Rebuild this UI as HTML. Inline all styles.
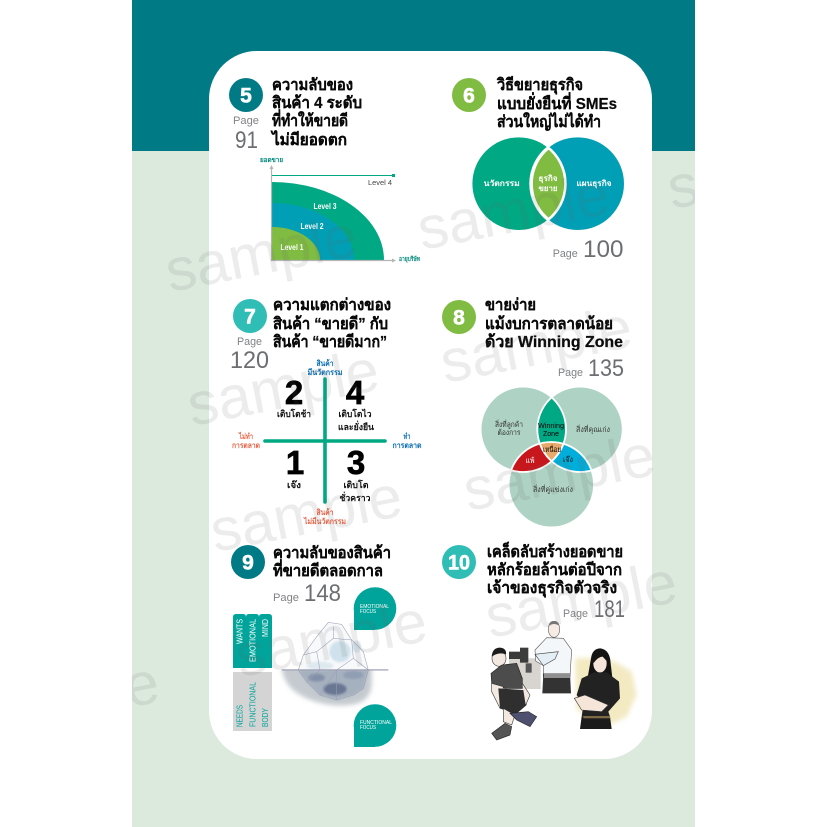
<!DOCTYPE html>
<html><head><meta charset="utf-8"><style>
html,body{margin:0;padding:0;background:#fff}
svg{display:block}
text{font-family:"Liberation Sans","DejaVu Sans","Noto Sans CJK SC",sans-serif}
.t{font-size:16px;font-weight:700;fill:#0a0a0a;stroke:#0a0a0a;stroke-width:.25}
.n{font-size:21px;font-weight:700;fill:#fff;stroke:#fff;stroke-width:.6;text-anchor:middle}
.p{font-size:11px;fill:#808285}
.g{font-size:24.500px;fill:#6d6e71}
.w{font-size:8px;font-weight:700;fill:#fff;text-anchor:middle}
.d{font-size:9px;font-weight:700;fill:#111;text-anchor:middle}
.big{font-size:33px;font-weight:700;fill:#000;stroke:#000;stroke-width:.7;text-anchor:middle}
.b{font-size:8px;font-weight:700;fill:#0b6fb5;text-anchor:middle}
.r{font-size:8px;font-weight:700;fill:#e8674a;text-anchor:middle}
.s{font-size:7.500px;fill:#333;text-anchor:middle}
.c{font-size:5px;fill:#fff}
.m{font-size:60px;fill:rgba(95,95,95,.12)}
</style></head><body>
<svg width="827" height="827" viewBox="0 0 827 827" xmlns="http://www.w3.org/2000/svg">
<defs>
<clipPath id="page"><rect x="132" y="0" width="563" height="827"/></clipPath>
<clipPath id="L"><circle cx="523.3" cy="429.3" r="42.7"/></clipPath>
<clipPath id="R"><circle cx="580" cy="429.3" r="42.7"/></clipPath>
<clipPath id="lv"><circle cx="518.7" cy="183.7" r="46.3"/></clipPath>
<clipPath id="water"><rect x="150" y="405" width="380" height="130"/></clipPath>
<filter id="bl" x="-30%" y="-30%" width="160%" height="160%"><feGaussianBlur stdDeviation="3"/></filter>
<filter id="bl2" x="-30%" y="-30%" width="160%" height="160%"><feGaussianBlur stdDeviation="1.5"/></filter>
<filter id="bl3" x="-30%" y="-30%" width="160%" height="160%"><feGaussianBlur stdDeviation="7"/></filter>
</defs>
<rect width="827" height="827" fill="#fff"/>
<rect x="132" y="0" width="563" height="827" fill="#dce9dd"/>
<rect x="132" y="0" width="563" height="151" fill="#007b85"/>
<rect x="209" y="51" width="443" height="708" rx="48" ry="48" fill="#fff"/>

<!-- 5 -->
<circle cx="246" cy="95" r="17" fill="#007b85"/><text class="n" x="246" y="102.500">5</text>
<text class="p" x="233" y="124" textLength="26" lengthAdjust="spacingAndGlyphs">Page</text>
<text class="g" x="235" y="148" textLength="23" lengthAdjust="spacingAndGlyphs">91</text>
<text class="t" x="272" y="90" textLength="81" lengthAdjust="spacingAndGlyphs">ความลับของ</text>
<text class="t" x="272" y="108" textLength="90" lengthAdjust="spacingAndGlyphs">สินค้า 4 ระดับ</text>
<text class="t" x="272" y="126" textLength="76" lengthAdjust="spacingAndGlyphs">ที่ทำให้ขายดี</text>
<text class="t" x="272" y="145" textLength="75" lengthAdjust="spacingAndGlyphs">ไม่มียอดตก</text>
<path d="M272 260V182A112 78 0 0 1 384 260Z" fill="#00a884"/>
<path d="M272 260V203A82 57 0 0 1 354 260Z" fill="#009fb5"/>
<path d="M272 260V227A48 33 0 0 1 320 260Z" fill="#7fbc41"/>
<path d="M271.500 168V260.500H393" fill="none" stroke="#b5b5b5" stroke-width="1.200"/>
<path d="M269.500 169l2-4 2 4zM392 258.500l4 2-4 2z" fill="#b5b5b5"/>
<path d="M272 175.500H393" stroke="#00a884" stroke-width="1"/><rect x="392" y="174" width="3" height="3" fill="#00a884"/>
<text x="368" y="185" font-size="7.500" fill="#444" textLength="24" lengthAdjust="spacingAndGlyphs">Level 4</text>
<text class="w" x="325" y="209" font-size="7.500" textLength="23" lengthAdjust="spacingAndGlyphs">Level 3</text>
<text class="w" x="312" y="229" font-size="7.500" textLength="23" lengthAdjust="spacingAndGlyphs">Level 2</text>
<text class="w" x="292" y="250" font-size="7.500" textLength="23" lengthAdjust="spacingAndGlyphs">Level 1</text>
<text x="260" y="162" font-size="6.500" font-weight="700" fill="#00897b" textLength="23" lengthAdjust="spacingAndGlyphs">ยอดขาย</text>
<text x="399" y="261" font-size="6.500" font-weight="700" fill="#00897b" textLength="21" lengthAdjust="spacingAndGlyphs">อายุบริษัท</text>

<!-- 6 -->
<circle cx="469" cy="95" r="17" fill="#7fbc41"/><text class="n" x="469" y="102.500">6</text>
<text class="t" x="497" y="90" textLength="86" lengthAdjust="spacingAndGlyphs">วิธีขยายธุรกิจ</text>
<text class="t" x="497" y="109" textLength="120" lengthAdjust="spacingAndGlyphs">แบบยั่งยืนที่ SMEs</text>
<text class="t" x="497" y="127" textLength="104" lengthAdjust="spacingAndGlyphs">ส่วนใหญ่ไม่ได้ทำ</text>
<circle cx="518.700" cy="183.700" r="46.300" fill="#00a884"/>
<circle cx="577.700" cy="183.700" r="46.300" fill="#009fb5"/>
<g clip-path="url(#lv)"><circle cx="577.700" cy="183.700" r="46.300" fill="#7fbc41" stroke="#fff" stroke-width="3"/></g>
<path d="M548 147.500A46.300 46.300 0 0 1 548 219.900A46.300 46.300 0 0 1 548 147.500Z" fill="none" stroke="#fff" stroke-width="2.600"/>
<text class="w" x="501.700" y="186" font-size="8.500" textLength="36" lengthAdjust="spacingAndGlyphs">นวัตกรรม</text>
<text class="w" x="594" y="186" font-size="8.500" textLength="35" lengthAdjust="spacingAndGlyphs">แผนธุรกิจ</text>
<text class="w" x="548" y="181" font-size="8.500" textLength="19" lengthAdjust="spacingAndGlyphs">ธุรกิจ</text>
<text class="w" x="548" y="191" font-size="8.500" textLength="19" lengthAdjust="spacingAndGlyphs">ขยาย</text>
<text class="p" x="552.700" y="257" textLength="25" lengthAdjust="spacingAndGlyphs">Page</text>
<text class="g" x="583" y="257" textLength="40.500" lengthAdjust="spacingAndGlyphs">100</text>

<!-- 7 -->
<circle cx="250" cy="316" r="17" fill="#2fbdb5"/><text class="n" x="250" y="323.500">7</text>
<text class="p" x="237" y="345" textLength="25" lengthAdjust="spacingAndGlyphs">Page</text>
<text class="g" x="230" y="368" textLength="39" lengthAdjust="spacingAndGlyphs">120</text>
<text class="t" x="273" y="310" textLength="118" lengthAdjust="spacingAndGlyphs">ความแตกต่างของ</text>
<text class="t" x="273" y="329" textLength="115" lengthAdjust="spacingAndGlyphs">สินค้า “ขายดี” กับ</text>
<text class="t" x="273" y="347" textLength="114" lengthAdjust="spacingAndGlyphs">สินค้า “ขายดีมาก”</text>
<path d="M325 379V502M265 441H385" stroke="#00a884" stroke-width="3.600" stroke-linecap="round"/>
<text class="big" x="294" y="404">2</text><text class="big" x="355" y="404">4</text>
<text class="big" x="295" y="474">1</text><text class="big" x="356" y="474">3</text>
<text class="d" x="294" y="417" textLength="34" lengthAdjust="spacingAndGlyphs">เติบโตช้า</text>
<text class="d" x="355" y="417" textLength="33" lengthAdjust="spacingAndGlyphs">เติบโตไว</text>
<text class="d" x="356" y="430" textLength="36" lengthAdjust="spacingAndGlyphs">และยั่งยืน</text>
<text class="d" x="294" y="488" textLength="14" lengthAdjust="spacingAndGlyphs">เจ๊ง</text>
<text class="d" x="356" y="488" textLength="25" lengthAdjust="spacingAndGlyphs">เติบโต</text>
<text class="d" x="355" y="501" textLength="31" lengthAdjust="spacingAndGlyphs">ชั่วคราว</text>
<text class="b" x="325" y="366" textLength="17" lengthAdjust="spacingAndGlyphs">สินค้า</text>
<text class="b" x="325" y="375" textLength="35" lengthAdjust="spacingAndGlyphs">มีนวัตกรรม</text>
<text class="r" x="325" y="515" textLength="17" lengthAdjust="spacingAndGlyphs">สินค้า</text>
<text class="r" x="325" y="524" textLength="42" lengthAdjust="spacingAndGlyphs">ไม่มีนวัตกรรม</text>
<text class="r" x="246" y="439" textLength="14" lengthAdjust="spacingAndGlyphs">ไม่ทำ</text>
<text class="r" x="246" y="448" textLength="28" lengthAdjust="spacingAndGlyphs">การตลาด</text>
<text class="b" x="407" y="439" textLength="7" lengthAdjust="spacingAndGlyphs">ทำ</text>
<text class="b" x="407" y="448" textLength="29" lengthAdjust="spacingAndGlyphs">การตลาด</text>

<!-- 8 -->
<circle cx="459" cy="317" r="17" fill="#7fbc41"/><text class="n" x="459" y="324.500">8</text>
<text class="t" x="485" y="310" textLength="51" lengthAdjust="spacingAndGlyphs">ขายง่าย</text>
<text class="t" x="485" y="329" textLength="128" lengthAdjust="spacingAndGlyphs">แม้งบการตลาดน้อย</text>
<text class="t" x="485" y="347" textLength="138" lengthAdjust="spacingAndGlyphs">ด้วย Winning Zone</text>
<text class="p" x="558" y="376" textLength="25" lengthAdjust="spacingAndGlyphs">Page</text>
<text class="g" x="588" y="376" textLength="36" lengthAdjust="spacingAndGlyphs">135</text>
<g fill="#aed2c3">
<circle cx="523.300" cy="429.300" r="42.700"/><circle cx="580" cy="429.300" r="42.700"/><circle cx="551.300" cy="484.700" r="42.700"/>
</g>
<g clip-path="url(#L)"><circle cx="580" cy="429.300" r="42.700" fill="#00a884"/></g>
<g clip-path="url(#L)"><circle cx="551.300" cy="484.700" r="42.700" fill="#c8161d"/></g>
<g clip-path="url(#R)"><circle cx="551.300" cy="484.700" r="42.700" fill="#00aedb"/></g>
<g clip-path="url(#L)"><g clip-path="url(#R)"><circle cx="551.300" cy="484.700" r="42.700" fill="#e8a96c"/></g></g>
<g fill="none" stroke="#fff" stroke-width="1.800">
<circle cx="523.300" cy="429.300" r="42.700"/><circle cx="580" cy="429.300" r="42.700"/><circle cx="551.300" cy="484.700" r="42.700"/>
</g>
<text class="s" x="509" y="427" textLength="28" lengthAdjust="spacingAndGlyphs">สิ่งที่ลูกค้า</text>
<text class="s" x="509" y="435" textLength="23" lengthAdjust="spacingAndGlyphs">ต้องการ</text>
<text class="s" x="593" y="432" textLength="34" lengthAdjust="spacingAndGlyphs">สิ่งที่คุณเก่ง</text>
<text class="s" x="553" y="492" textLength="40" lengthAdjust="spacingAndGlyphs">สิ่งที่คู่แข่งเก่ง</text>
<text class="s" x="551" y="428" style="fill:#000" textLength="26" lengthAdjust="spacingAndGlyphs">Winning</text>
<text class="s" x="551" y="436" style="fill:#000" textLength="16" lengthAdjust="spacingAndGlyphs">Zone</text>
<text class="s" x="552" y="452" style="fill:#000" textLength="18" lengthAdjust="spacingAndGlyphs">เหนื่อย</text>
<text class="s" x="530" y="463" style="fill:#fff" textLength="9" lengthAdjust="spacingAndGlyphs">แพ้</text>
<text class="s" x="568" y="462" style="fill:#111" textLength="10" lengthAdjust="spacingAndGlyphs">เจ๊ง</text>

<!-- 9 -->
<circle cx="248" cy="562" r="17" fill="#007b85"/><text class="n" x="248" y="569.500">9</text>
<text class="t" x="273" y="558" textLength="118" lengthAdjust="spacingAndGlyphs">ความลับของสินค้า</text>
<text class="t" x="273" y="576" textLength="110" lengthAdjust="spacingAndGlyphs">ที่ขายดีตลอดกาล</text>
<text class="p" x="273" y="601" textLength="26" lengthAdjust="spacingAndGlyphs">Page</text>
<text class="g" x="304" y="601" textLength="37" lengthAdjust="spacingAndGlyphs">148</text>
<circle cx="375" cy="608.500" r="21.300" fill="#00a49a"/><rect x="354" y="608.500" width="21" height="21.500" fill="#00a49a"/>
<circle cx="375" cy="725.500" r="21.300" fill="#00a49a"/><rect x="354" y="725.500" width="21" height="21.500" fill="#00a49a"/>
<text class="c" x="360" y="608" textLength="29" lengthAdjust="spacingAndGlyphs">EMOTIONAL</text>
<text class="c" x="360" y="613" textLength="16" lengthAdjust="spacingAndGlyphs">FOCUS</text>
<text class="c" x="360" y="724" textLength="32" lengthAdjust="spacingAndGlyphs">FUNCTIONAL</text>
<text class="c" x="360" y="729" textLength="16" lengthAdjust="spacingAndGlyphs">FOCUS</text>
<path d="M233 668V617Q233 614 236 614H243Q246 614 246 617Q246 614 249 614H256Q259 614 259 617Q259 614 262 614H269Q272 614 272 617V668Z" fill="#00a49a"/>
<rect x="233" y="672" width="39" height="59" fill="#d4d4d4"/>
<g fill="#fff">
<text transform="translate(242.500 644) rotate(-90)" font-size="8.500" textLength="25" lengthAdjust="spacingAndGlyphs">WANTS</text>
<text transform="translate(255.500 662) rotate(-90)" font-size="8.500" textLength="43" lengthAdjust="spacingAndGlyphs">EMOTIONAL</text>
<text transform="translate(268 637) rotate(-90)" font-size="8.500" textLength="18" lengthAdjust="spacingAndGlyphs">MIND</text>
</g>
<g fill="#00a49a">
<text transform="translate(242.500 727) rotate(-90)" font-size="8.500" textLength="22" lengthAdjust="spacingAndGlyphs">NEEDS</text>
<text transform="translate(255.500 727) rotate(-90)" font-size="8.500" textLength="45" lengthAdjust="spacingAndGlyphs">FUNCTIONAL</text>
<text transform="translate(268 727) rotate(-90)" font-size="8.500" textLength="19" lengthAdjust="spacingAndGlyphs">BODY</text>
</g>
<g transform="translate(220 535) scale(.33333)">
<g clip-path="url(#water)">
<path d="M185 395H455V450Q450 500 400 508Q330 520 260 490Q190 460 185 395Z" fill="#c4cacf" filter="url(#bl3)"/>
<path d="M235 405H445L430 460L400 480L350 495L300 480L260 440Z" fill="#a6b1bf" filter="url(#bl)"/>
<ellipse cx="345" cy="462" rx="35" ry="18" fill="#6a7793" filter="url(#bl)"/>
<ellipse cx="290" cy="428" rx="25" ry="12" fill="#8391a8" filter="url(#bl)"/>
<ellipse cx="400" cy="420" rx="30" ry="12" fill="#909eb3" filter="url(#bl)"/>
</g>
<path d="M325 262L365 268L395 315L430 350L445 405H235L250 360L290 305Z" fill="#f7f9fb"/>
<ellipse cx="360" cy="350" rx="32" ry="32" fill="#cfe2ec" filter="url(#bl)"/>
<ellipse cx="410" cy="335" rx="14" ry="18" fill="#dce9f0" filter="url(#bl2)"/>
<ellipse cx="300" cy="392" rx="40" ry="12" fill="#dde8ef" filter="url(#bl)"/>
<path d="M325 262L365 268L395 315L430 350L445 405L430 460L400 480L350 495L300 480L260 440L235 405L250 360L290 305ZM340 275L340 310L290 350L250 360M340 310L395 315L400 370L445 405M290 350L300 405L260 440M400 370L350 405L350 495M300 480L350 405" fill="none" stroke="#9a9db4" stroke-width="1.600"/>
<rect x="185" y="403" width="320" height="3.500" fill="#9a9aaf"/>
</g>

<!-- 10 -->
<circle cx="459" cy="562" r="17" fill="#2fbdb5"/><text class="n" x="459" y="569.500" textLength="22" lengthAdjust="spacingAndGlyphs">10</text>
<text class="t" x="487" y="557" textLength="136" lengthAdjust="spacingAndGlyphs">เคล็ดลับสร้างยอดขาย</text>
<text class="t" x="487" y="575" textLength="135" lengthAdjust="spacingAndGlyphs">หลักร้อยล้านต่อปีจาก</text>
<text class="t" x="487" y="593" textLength="130" lengthAdjust="spacingAndGlyphs">เจ้าของธุรกิจตัวจริง</text>
<text class="p" x="563" y="617" textLength="25" lengthAdjust="spacingAndGlyphs">Page</text>
<text class="g" x="594" y="617" textLength="31" lengthAdjust="spacingAndGlyphs">181</text>
<g transform="translate(435 535) scale(.33333)">
<!-- yellow wash -->
<path d="M420 370L475 368L540 380L590 410L605 480L575 545L525 570L470 560L425 520Z" fill="#f3eac2" filter="url(#bl3)"/>
<!-- machine -->
<rect x="222" y="370" width="95" height="92" fill="#d8d5d0"/>
<rect x="222" y="350" width="50" height="22" fill="#3a3a3a"/><rect x="255" y="338" width="25" height="45" fill="#3c3c3c"/>
<rect x="272" y="385" width="18" height="28" fill="#555"/>
<!-- standing man -->
<path d="M335 308L300 345L302 378L325 392L325 425L405 425L410 345L385 310Z" fill="#f4f7f9" stroke="#555" stroke-width="1.800"/>
<path d="M300 358L370 350L360 372L325 392Z" fill="#e3eef5" stroke="#444" stroke-width="1.800"/>
<ellipse cx="357" cy="283" rx="17" ry="24" fill="#f6ece4" stroke="#555" stroke-width="1.800"/>
<path d="M341 272Q343 258 357 258Q371 258 373 272Q357 262 341 272Z" fill="#777"/>
<path d="M325 415H405L408 475H322Z" fill="#333"/>
<rect x="327" y="415" width="78" height="14" fill="#8f8f8f"/>
<!-- crouching man -->
<ellipse cx="192" cy="370" rx="21" ry="24" fill="#f3e9e0" stroke="#333" stroke-width="1.800"/>
<path d="M170 365Q172 338 195 338Q215 340 213 358Q190 350 170 365Z" fill="#1d1d1d"/>
<path d="M200 390L245 385L262 430L262 460L210 460L170 445L168 415Z" fill="#4c4c4c" stroke="#222" stroke-width="1.800"/>
<path d="M170 445L205 455L195 520L170 470Z" fill="#f3e9e0" stroke="#333" stroke-width="1.800"/>
<path d="M190 460L265 465L275 510L240 540L195 520Z" fill="#2f2f2f"/>
<path d="M262 445L285 480L272 510" fill="#f3e9e0" stroke="#333" stroke-width="1.800"/>
<path d="M205 520L240 540L230 570L205 560Z" fill="#f3e9e0" stroke="#333" stroke-width="1.800"/>
<path d="M170 595L210 565L230 575L225 600L185 615Z" fill="#555" stroke="#222" stroke-width="1.800"/>
<path d="M225 535L280 530L305 545L285 575L245 555Z" fill="#4f5070" stroke="#222" stroke-width="1.800"/>
<!-- woman -->
<path d="M468 370Q472 340 497 340Q525 345 527 385L532 428H458Z" fill="#141414"/>
<ellipse cx="495" cy="385" rx="20" ry="28" fill="#f6e6da"/>
<path d="M475 372Q485 348 510 352Q520 358 515 378L503 365Q490 365 475 385Z" fill="#141414"/>
<path d="M440 430L478 412L515 412L552 440L555 490L520 530L525 545H440L445 510L425 480Z" fill="#222"/>
<path d="M418 490L450 480L520 510L500 530L440 525Z" fill="#f6e6da" stroke="#333" stroke-width="1.800"/>
<path d="M440 545H525L530 582H435Z" fill="#1b1b1b"/>
<rect x="445" y="543" width="80" height="7" fill="#7c6a45"/>
</g>

<!-- watermarks -->
<g clip-path="url(#page)">
<text class="m" transform="translate(170 292) rotate(-11)">sample</text>
<text class="m" transform="translate(422 250) rotate(-11)">sample</text>
<text class="m" transform="translate(672 209) rotate(-11)">sample</text>
<text class="m" transform="translate(192 426) rotate(-11)">sample</text>
<text class="m" transform="translate(445 383) rotate(-11)">sample</text>
<text class="m" transform="translate(215 552) rotate(-11)">sample</text>
<text class="m" transform="translate(468 511) rotate(-11)">sample</text>
<text class="m" transform="translate(240 677) rotate(-11)">sample</text>
<text class="m" transform="translate(490 638) rotate(-11)">sample</text>
<text class="m" transform="translate(-28 738) rotate(-11)">sample</text>
</g>
</svg>
</body></html>
